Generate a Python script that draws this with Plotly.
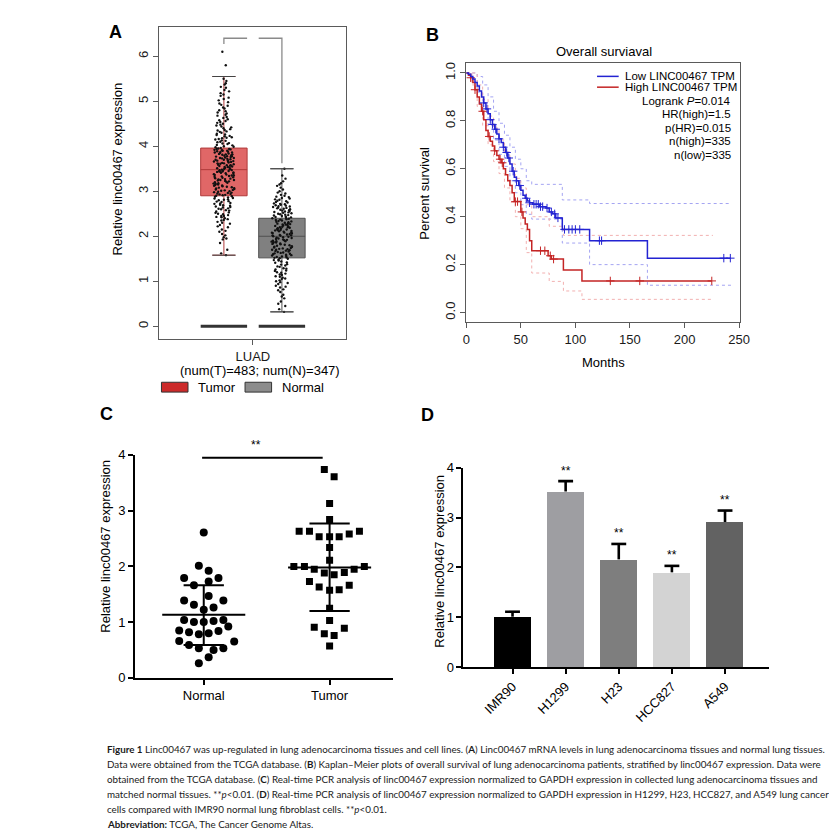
import plotly.graph_objects as go

W, H = 837, 833


def PX(x):
    return x / W


def PY(y):
    return 1 - y / H


ARIAL = "Liberation Sans, Arial, sans-serif"
CAP_FONT = "Lato, sans-serif"

# ---------------- Panel A data (GEPIA boxplot) ----------------
a_groups = ["Tumor", "Normal"]
a_pos = [1, 2]
a_q1 = [2.90, 1.52]
a_median = [3.48, 2.00]
a_q3 = [3.96, 2.40]
a_lower = [1.58, 0.32]
a_upper = [5.55, 3.50]
a_zero = [0.0, 0.0]
a_ticks = [0, 1, 2, 3, 4, 5, 6]
a_xlabel = "LUAD"
a_counts = "(num(T)=483; num(N)=347)"
a_bracket_top = 6.40
a_bracket_low = [6.27, 3.62]
a_tumor_points = [
    1.58, 1.62, 1.70, 1.85, 1.93, 1.98, 2.05, 2.10, 2.15, 2.20, 2.22, 2.28, 2.32, 2.35, 2.38,
    2.40, 2.42, 2.45, 2.47, 2.49, 2.50, 2.53, 2.55, 2.58, 2.60, 2.62, 2.64, 2.66, 2.68, 2.70,
    2.72, 2.74, 2.76, 2.78, 2.80, 2.82, 2.84, 2.86, 2.88, 2.90, 2.92, 2.94, 2.95, 2.97, 2.99,
    3.01, 3.03, 3.04, 3.06, 3.08, 3.10, 3.11, 3.13, 3.15, 3.17, 3.18, 3.20, 3.22, 3.24, 3.25,
    3.27, 3.29, 3.30, 3.32, 3.34, 3.35, 3.37, 3.38, 3.40, 3.41, 3.42, 3.44, 3.45, 3.46, 3.47,
    3.48, 3.49, 3.50, 3.52, 3.53, 3.54, 3.56, 3.57, 3.58, 3.60, 3.61, 3.62, 3.64, 3.65, 3.66,
    3.68, 3.69, 3.70, 3.72, 3.73, 3.74, 3.76, 3.77, 3.78, 3.80, 3.81, 3.82, 3.84, 3.85, 3.86,
    3.88, 3.89, 3.90, 3.91, 3.92, 3.93, 3.94, 3.95, 3.98, 4.00, 4.02, 4.05, 4.07, 4.10, 4.12,
    4.15, 4.18, 4.20, 4.23, 4.26, 4.30, 4.33, 4.36, 4.40, 4.44, 4.48, 4.52, 4.56, 4.60, 4.65,
    4.70, 4.75, 4.80, 4.86, 4.92, 4.98, 5.05, 5.12, 5.18, 5.25, 5.32, 5.40, 5.50, 5.80, 6.10,
    2.45, 2.52, 2.57, 2.61, 2.65, 2.69, 2.73, 2.77, 2.81, 2.85, 2.89, 2.91, 2.93, 2.96, 2.98,
    3.00, 3.02, 3.05, 3.07, 3.09, 3.12, 3.14, 3.16, 3.19, 3.21, 3.23, 3.26, 3.28, 3.31, 3.33,
    3.36, 3.39, 3.43, 3.47, 3.51, 3.55, 3.59, 3.63, 3.67, 3.71, 3.75, 3.79, 3.83, 3.87, 3.96,
    3.99, 4.03, 4.06, 4.09, 4.13, 4.16, 4.19, 4.22, 4.25, 4.28, 4.32, 4.35, 4.38, 4.42, 4.46,
    4.50, 4.54, 4.58, 4.63, 4.68, 4.73, 4.78, 4.84, 4.90, 4.95, 5.02, 5.08, 5.15, 5.22, 5.30,
    5.37, 5.45, 2.25, 2.30, 2.36, 2.43, 2.12, 2.02, 1.95, 3.44, 3.50, 3.54, 3.58, 3.62, 3.66,
    3.70, 3.74, 3.78, 3.82, 3.86, 3.90, 3.94, 3.45, 3.35, 3.25,
]
a_normal_points = [
    0.32, 0.38, 0.45, 0.55, 0.62, 0.70, 0.76, 0.82, 0.86, 0.90, 0.94, 0.98, 1.02, 1.05, 1.08,
    1.11, 1.14, 1.17, 1.20, 1.23, 1.26, 1.29, 1.32, 1.35, 1.38, 1.41, 1.44, 1.46, 1.48, 1.50,
    1.52, 1.54, 1.56, 1.57, 1.59, 1.60, 1.62, 1.63, 1.65, 1.66, 1.68, 1.70, 1.71, 1.73, 1.74,
    1.76, 1.78, 1.79, 1.81, 1.82, 1.84, 1.86, 1.87, 1.89, 1.91, 1.92, 1.94, 1.96, 1.97, 1.99,
    2.00, 2.01, 2.03, 2.04, 2.05, 2.07, 2.08, 2.09, 2.11, 2.12, 2.13, 2.15, 2.16, 2.17, 2.19,
    2.20, 2.21, 2.23, 2.24, 2.25, 2.27, 2.28, 2.29, 2.31, 2.32, 2.33, 2.35, 2.36, 2.37, 2.39,
    2.40, 2.42, 2.44, 2.46, 2.48, 2.50, 2.52, 2.54, 2.56, 2.58, 2.60, 2.62, 2.64, 2.66, 2.68,
    2.70, 2.72, 2.75, 2.78, 2.81, 2.84, 2.87, 2.90, 2.95, 3.00, 3.08, 3.15, 3.22, 3.35, 3.50,
    0.50, 0.66, 0.80, 0.88, 0.96, 1.00, 1.06, 1.10, 1.15, 1.19, 1.24, 1.28, 1.33, 1.37, 1.42,
    1.47, 1.51, 1.53, 1.55, 1.58, 1.61, 1.64, 1.67, 1.69, 1.72, 1.75, 1.77, 1.80, 1.83, 1.85,
    1.88, 1.90, 1.93, 1.95, 1.98, 2.02, 2.06, 2.10, 2.14, 2.18, 2.22, 2.26, 2.30, 2.34, 2.38,
    2.41, 2.43, 2.45, 2.47, 2.49, 2.51, 2.53, 2.55, 2.57, 2.59, 2.61, 2.63, 2.65, 2.67, 2.69,
    2.71, 2.73, 2.76, 2.79, 2.82, 2.85, 2.88, 2.92, 2.97, 3.04, 3.12, 3.18, 3.28, 2.02, 2.08,
    2.14, 2.20, 2.26, 1.89, 1.70,
]
a_fill = ["#e06767", "#808080"]
a_edge = ["#b03a3a", "#505050"]
a_legend_fill = ["#cc2a2a", "#8c8c8c"]

# ---------------- Panel B data (Kaplan-Meier) ----------------
b_title = "Overall surviaval"
b_legend = ["Low LINC00467 TPM", "High LINC00467 TPM"]
b_stats = ["Logrank <i>P</i>=0.014", "HR(high)=1.5", "p(HR)=0.015", "n(high)=335", "n(low)=335"]
b_low_t = [0, 2, 4, 6, 8, 10, 12, 14, 16, 18, 20, 22, 24, 26, 28, 30, 32, 34, 36, 38, 40, 42,
           44, 46, 48, 50, 52, 54, 56, 58, 61, 67, 73, 76, 79, 82, 88, 113, 166, 242]
b_low_s = [1.0, 0.995, 0.985, 0.975, 0.96, 0.945, 0.925, 0.90, 0.875, 0.85, 0.83, 0.805, 0.785,
           0.765, 0.745, 0.725, 0.71, 0.69, 0.668, 0.645, 0.62, 0.59, 0.565, 0.55, 0.53, 0.51,
           0.49, 0.477, 0.466, 0.458, 0.452, 0.442, 0.436, 0.42, 0.412, 0.395, 0.347, 0.30,
           0.227, 0.227]
b_high_t = [0, 2, 4, 6, 8, 10, 12, 14, 16, 18, 20, 22, 24, 26, 28, 30, 32, 34, 36, 38, 40, 42,
            44, 50, 52, 54, 56, 58, 60, 75, 78, 89, 106, 225]
b_high_s = [1.0, 0.99, 0.98, 0.96, 0.93, 0.90, 0.87, 0.84, 0.805, 0.76, 0.735, 0.715, 0.695,
            0.675, 0.655, 0.64, 0.625, 0.60, 0.575, 0.55, 0.53, 0.50, 0.463, 0.42, 0.395, 0.37,
            0.347, 0.30, 0.258, 0.237, 0.223, 0.178, 0.132, 0.132]
b_low_up_t = [0, 5, 10, 15, 20, 25, 30, 35, 40, 45, 50, 55, 60, 88, 113, 243]
b_low_up = [1.0, 1.0, 0.985, 0.95, 0.90, 0.84, 0.79, 0.74, 0.69, 0.64, 0.60, 0.55, 0.535, 0.47,
            0.455, 0.455]
b_low_lo_t = [0, 5, 10, 15, 20, 25, 30, 35, 40, 45, 50, 55, 60, 88, 113, 166, 243]
b_low_lo = [1.0, 0.97, 0.92, 0.85, 0.78, 0.72, 0.66, 0.61, 0.55, 0.50, 0.45, 0.41, 0.39, 0.29,
            0.20, 0.114, 0.114]
b_high_up_t = [0, 5, 10, 15, 20, 25, 30, 35, 40, 45, 50, 55, 60, 76, 89, 106, 226]
b_high_up = [1.0, 1.0, 0.95, 0.89, 0.82, 0.77, 0.72, 0.67, 0.62, 0.56, 0.52, 0.45, 0.40, 0.36,
             0.322, 0.322, 0.322]
b_high_lo_t = [0, 5, 10, 15, 20, 25, 30, 35, 40, 45, 50, 55, 60, 76, 89, 106, 226]
b_high_lo = [1.0, 0.95, 0.86, 0.78, 0.70, 0.63, 0.58, 0.52, 0.46, 0.40, 0.35, 0.25, 0.165, 0.13,
             0.09, 0.055, 0.055]
b_low_censor = [16, 19, 22, 24, 27, 30, 34, 37, 39, 43, 46, 49, 55, 58, 62, 64, 66, 68, 70, 74,
                78, 81, 84, 90, 94, 97, 100, 104, 122, 124, 236, 242]
b_high_censor = [4, 8, 15, 21, 26, 31, 33, 45, 47, 51, 68, 72, 77, 80, 132, 159, 225]
b_xticks = [0, 50, 100, 150, 200, 250]
b_yticks = [0.0, 0.2, 0.4, 0.6, 0.8, 1.0]
BLUE = "#2323d2"
RED = "#c42424"
BLUE_CI = "#a4a4f2"
RED_CI = "#f2b0b0"

# ---------------- Panel C data (dot plot) ----------------
c_groups = ["Normal", "Tumor"]
c_normal_vals = [2.61, 2.01, 1.92, 1.79, 1.79, 1.73, 1.66, 1.47, 1.39, 1.39, 1.31, 1.26, 1.22,
                 1.04, 1.00, 1.00, 1.02, 1.04, 0.92, 0.85, 0.82, 0.78, 0.80, 0.84, 0.66, 0.65,
                 0.59, 0.53, 0.50, 0.53, 0.37, 0.26]
c_normal_offsets = [0, -0.039, 0.039, -0.156, 0.117, 0.039, -0.078, 0.039, -0.156, 0.156, -0.078,
                    0.078, 0, -0.156, -0.078, 0, 0.078, 0.156, 0.195, -0.195, -0.117, -0.039,
                    0.039, 0.117, -0.195, 0.242, -0.117, -0.039, 0.078, 0.156, 0.039, -0.039]
c_tumor_vals = [3.74, 3.61, 3.13, 2.84, 2.63, 2.63, 2.53, 2.53, 2.53, 2.58, 2.63, 2.34, 2.11,
                2.00, 2.00, 1.95, 1.88, 1.85, 1.89, 1.95, 2.00, 1.73, 1.63, 1.57, 1.58, 1.66,
                1.25, 1.03, 0.91, 0.89, 0.79, 0.76, 0.57]
c_tumor_offsets = [-0.042, 0.036, 0, 0, -0.242, -0.16, -0.083, 0, 0.076, 0.156, 0.237, 0, 0,
                   -0.284, -0.2, -0.122, -0.042, 0.036, 0.117, 0.195, 0.276, -0.16, -0.083, 0,
                   0.076, 0.156, 0, 0, -0.122, 0.117, -0.042, 0.036, 0]
c_mean = [1.13, 1.98]
c_sd_hi = [1.66, 2.77]
c_sd_lo = [0.59, 1.20]
c_sig_y = 3.95
c_sig_label = "**"

# ---------------- Panel D data (bar chart) ----------------
d_cells = ["IMR90", "H1299", "H23", "HCC827", "A549"]
d_vals = [1.01, 3.52, 2.16, 1.90, 2.91]
d_err = [0.10, 0.21, 0.31, 0.13, 0.23]
d_sig = ["", "**", "**", "**", "**"]
d_colors = ["#000000", "#9e9ea2", "#7e7e7e", "#d3d3d3", "#626262"]

ticks_0_4 = [0, 1, 2, 3, 4]
y_title = "Relative linc00467 expression"

captions = [
    "<b>Figure 1</b> Linc00467 was up-regulated in lung adenocarcinoma tissues and cell lines. (<b>A</b>) Linc00467 mRNA levels in lung adenocarcinoma tissues and normal lung tissues.",
    "Data were obtained from the TCGA database. (<b>B</b>) Kaplan–Meier plots of overall survival of lung adenocarcinoma patients, stratified by linc00467 expression. Data were",
    "obtained from the TCGA database. (<b>C</b>) Real-time PCR analysis of linc00467 expression normalized to GAPDH expression in collected lung adenocarcinoma tissues and",
    "matched normal tissues. **<i>p</i>&lt;0.01. (<b>D</b>) Real-time PCR analysis of linc00467 expression normalized to GAPDH expression in H1299, H23, HCC827, and A549 lung cancer",
    "cells compared with IMR90 normal lung fibroblast cells. **<i>p</i>&lt;0.01.",
    "<b>Abbreviation:</b> TCGA, The Cancer Genome Altas.",
]
caption_y = [747, 762.5, 778, 793, 808.5, 823.5]
caption_x = 95


def step_at(t, ts, ss):
    val = ss[0]
    for ti, si in zip(ts, ss):
        if ti <= t:
            val = si
    return val


fig = go.Figure()

# ---------- Panel A ----------
BOXW = 0.8
for i in range(2):
    fig.add_trace(go.Box(
        x=[a_pos[i]], q1=[a_q1[i]], median=[a_median[i]], q3=[a_q3[i]],
        lowerfence=[a_lower[i]], upperfence=[a_upper[i]], width=BOXW, whiskerwidth=0.5,
        fillcolor=a_fill[i], line=dict(color=a_edge[i], width=1), boxpoints=False,
        xaxis="x", yaxis="y", showlegend=False, hoverinfo="skip"))
    fig.add_trace(go.Box(
        x=[a_pos[i]], q1=[a_zero[i]], median=[a_zero[i]], q3=[a_zero[i]],
        lowerfence=[a_zero[i]], upperfence=[a_zero[i]], width=BOXW,
        fillcolor="#333333", line=dict(color="#333333", width=3), boxpoints=False,
        xaxis="x", yaxis="y", showlegend=False, hoverinfo="skip"))
for pos, pts in zip(a_pos, [a_tumor_points, a_normal_points]):
    fig.add_trace(go.Box(
        x=[pos] * len(pts), y=pts, width=BOXW, boxpoints="all", jitter=0.45, pointpos=0,
        fillcolor="rgba(0,0,0,0)", line=dict(color="rgba(0,0,0,0)", width=0),
        marker=dict(color="#111111", size=2.4), xaxis="x", yaxis="y",
        showlegend=False, hoverinfo="skip"))
for i in range(2):
    for v in (a_lower[i], a_upper[i]):
        fig.add_trace(go.Scatter(
            x=[a_pos[i] - BOXW * 0.25, a_pos[i] + BOXW * 0.25], y=[v, v], mode="lines",
            line=dict(color="#444444", width=1), xaxis="x", yaxis="y",
            showlegend=False, hoverinfo="skip"))
fig.add_trace(go.Scatter(
    x=[a_pos[0], a_pos[0], a_pos[0] + BOXW / 2, None, a_pos[1] - BOXW / 2, a_pos[1], a_pos[1]],
    y=[a_bracket_low[0], a_bracket_top, a_bracket_top, None, a_bracket_top, a_bracket_top,
       a_bracket_low[1]],
    mode="lines", line=dict(color="#8a8a8a", width=1.3), xaxis="x", yaxis="y",
    showlegend=False, hoverinfo="skip", cliponaxis=False))

# ---------- Panel B ----------
for ts, ss, col in [(b_low_up_t, b_low_up, BLUE_CI), (b_low_lo_t, b_low_lo, BLUE_CI),
                    (b_high_up_t, b_high_up, RED_CI), (b_high_lo_t, b_high_lo, RED_CI)]:
    fig.add_trace(go.Scatter(x=ts, y=ss, mode="lines",
                             line=dict(color=col, width=1, dash="dot", shape="hv"),
                             xaxis="x2", yaxis="y2", showlegend=False, hoverinfo="skip"))
for ts, ss, col, cens in [(b_high_t, b_high_s, RED, b_high_censor),
                          (b_low_t, b_low_s, BLUE, b_low_censor)]:
    fig.add_trace(go.Scatter(x=ts, y=ss, mode="lines", line=dict(color=col, width=1.5, shape="hv"),
                             xaxis="x2", yaxis="y2", showlegend=False, hoverinfo="skip"))
    fig.add_trace(go.Scatter(x=cens, y=[step_at(t, ts, ss) for t in cens], mode="markers",
                             marker=dict(symbol="cross-thin", size=6,
                                         line=dict(color=col, width=1)),
                             xaxis="x2", yaxis="y2", showlegend=False, hoverinfo="skip"))

# ---------- Panel C ----------
fig.add_trace(go.Scatter(
    x=[0 + o for o in c_normal_offsets], y=c_normal_vals, mode="markers",
    marker=dict(symbol="circle", size=8, color="black"), xaxis="x3", yaxis="y3",
    showlegend=False, hoverinfo="skip"))
fig.add_trace(go.Scatter(
    x=[1 + o for o in c_tumor_offsets], y=c_tumor_vals, mode="markers",
    marker=dict(symbol="square", size=7, color="black"), xaxis="x3", yaxis="y3",
    showlegend=False, hoverinfo="skip"))
sx, sy = [], []
for g in range(2):
    sx += [g, g, None, g - 0.33, g + 0.33, None, g - 0.16, g + 0.16, None, g - 0.16, g + 0.16, None]
    sy += [c_sd_lo[g], c_sd_hi[g], None, c_mean[g], c_mean[g], None, c_sd_hi[g], c_sd_hi[g], None,
           c_sd_lo[g], c_sd_lo[g], None]
fig.add_trace(go.Scatter(x=sx, y=sy, mode="lines", line=dict(color="black", width=2),
                         xaxis="x3", yaxis="y3", showlegend=False, hoverinfo="skip"))
fig.add_trace(go.Scatter(x=[-0.013, 0.945], y=[c_sig_y, c_sig_y], mode="lines",
                         line=dict(color="black", width=2), xaxis="x3", yaxis="y3",
                         showlegend=False, hoverinfo="skip"))

# ---------- Panel D ----------
fig.add_trace(go.Bar(x=list(range(len(d_cells))), y=d_vals, width=0.69,
                     marker=dict(color=d_colors, line=dict(width=0)),
                     xaxis="x4", yaxis="y4", showlegend=False, hoverinfo="skip"))
ex, ey = [], []
for i, (v, e) in enumerate(zip(d_vals, d_err)):
    ex += [i, i, None, i - 0.14, i + 0.14, None]
    ey += [v, v + e, None, v + e, v + e, None]
fig.add_trace(go.Scatter(x=ex, y=ey, mode="lines", line=dict(color="black", width=2.6),
                         xaxis="x4", yaxis="y4", showlegend=False, hoverinfo="skip"))

# ---------- Axes ----------
r_axis = dict(showline=True, mirror=True, linecolor="#5a5a5a", linewidth=1, ticks="outside",
              ticklen=5, tickcolor="#5a5a5a", showgrid=False, zeroline=False,
              tickfont=dict(family=ARIAL, size=13, color="#1a1a1a"))
g_axis = dict(showline=True, mirror=False, linecolor="black", linewidth=1.7, ticks="outside",
              ticklen=5, tickwidth=1.7, tickcolor="black", showgrid=False, zeroline=False,
              tickfont=dict(family=ARIAL, size=13, color="black"))

fig.update_layout(
    width=W, height=H, margin=dict(l=0, r=0, t=0, b=0),
    paper_bgcolor="white", plot_bgcolor="white", boxmode="overlay", bargap=0,
    xaxis=dict(r_axis, domain=[PX(150), PX(340)], range=[-0.11, 3.11], anchor="y",
               tickvals=[1.5], ticktext=[a_xlabel]),
    yaxis=dict(r_axis, domain=[PY(330), PY(12)], range=[-0.284, 6.655], anchor="x",
               tickvals=a_ticks, tickangle=-90),
    xaxis2=dict(r_axis, domain=[PX(462), PX(740)], range=[0, 250.5], anchor="y2",
                tickvals=b_xticks),
    yaxis2=dict(r_axis, domain=[PY(313), PY(49)], range=[-0.041, 1.041], anchor="x2",
                tickvals=b_yticks, tickformat=".1f", tickangle=-90),
    xaxis3=dict(g_axis, domain=[PX(125), PX(387)], range=[-0.547, 1.5], anchor="y3",
                tickvals=[0, 1], ticktext=c_groups),
    yaxis3=dict(g_axis, domain=[PY(675), PY(448)], range=[0, 4], anchor="x3",
                tickvals=ticks_0_4),
    xaxis4=dict(g_axis, domain=[PX(459), PX(770)], range=[-0.926, 4.83], anchor="y4",
                tickvals=list(range(len(d_cells))), ticktext=d_cells, tickangle=-45),
    yaxis4=dict(g_axis, domain=[PY(664), PY(461)], range=[0, 4], anchor="x4",
                tickvals=ticks_0_4),
)

ann = []
shapes = []


def add_text(x, y, text, size=13, xanchor="center", yanchor="middle", angle=0,
             family=ARIAL, color="black"):
    ann.append(dict(x=PX(x), y=PY(y), xref="paper", yref="paper", text=text, showarrow=False,
                    xanchor=xanchor, yanchor=yanchor, textangle=angle,
                    font=dict(family=family, size=size, color=color)))


for letter, (lx, ly) in zip("ABCD", [(105, 17), (428, 20), (96, 406), (423, 407)]):
    add_text(lx, ly, "<b>%s</b>" % letter, size=18)

# Panel A texts
add_text(107, 157, y_title, angle=-90)
add_text(252, 362, a_counts)
for i, (x0, x1, tx) in enumerate([(152, 179, 187), (237, 264, 273)]):
    shapes.append(dict(type="rect", xref="paper", yref="paper", x0=PX(x0), x1=PX(x1),
                       y0=PY(384), y1=PY(374), fillcolor=a_legend_fill[i],
                       line=dict(color="#333333", width=1)))
    add_text(tx, 379, a_groups[i], xanchor="left")

# Panel B texts
add_text(602, 37, b_title)
add_text(420, 181, "Percent survival", angle=-90)
add_text(602, 354, "Months")
for col, yy, label in [(BLUE, 62.5, b_legend[0]), (RED, 73.5, b_legend[1])]:
    shapes.append(dict(type="line", xref="paper", yref="paper", x0=PX(595), x1=PX(617),
                       y0=PY(yy), y1=PY(yy), line=dict(color=col, width=1.5)))
    add_text(621, yy, label, size=11.5, xanchor="left")
for yy, label in zip([87.5, 101, 115, 128.5, 142.5], b_stats):
    add_text(733, yy, label, size=11.5, xanchor="right")

# Panel C texts
add_text(95, 541, y_title, angle=-90)
add_text(248, 438, c_sig_label, size=12)

# Panel D texts
add_text(435, 556, y_title, angle=-90)
for i, s in enumerate(d_sig):
    if s:
        ann.append(dict(x=i, y=d_vals[i] + d_err[i] + 0.21, xref="x4", yref="y4", text=s,
                        showarrow=False, font=dict(family=ARIAL, size=12, color="black")))

# Caption
for yy, line in zip(caption_y, captions):
    add_text(caption_x, yy, line, size=9.8, xanchor="left", family=CAP_FONT, color="#1a1a1a")

fig.update_layout(annotations=ann, shapes=shapes)
fig.write_html("out.html")
